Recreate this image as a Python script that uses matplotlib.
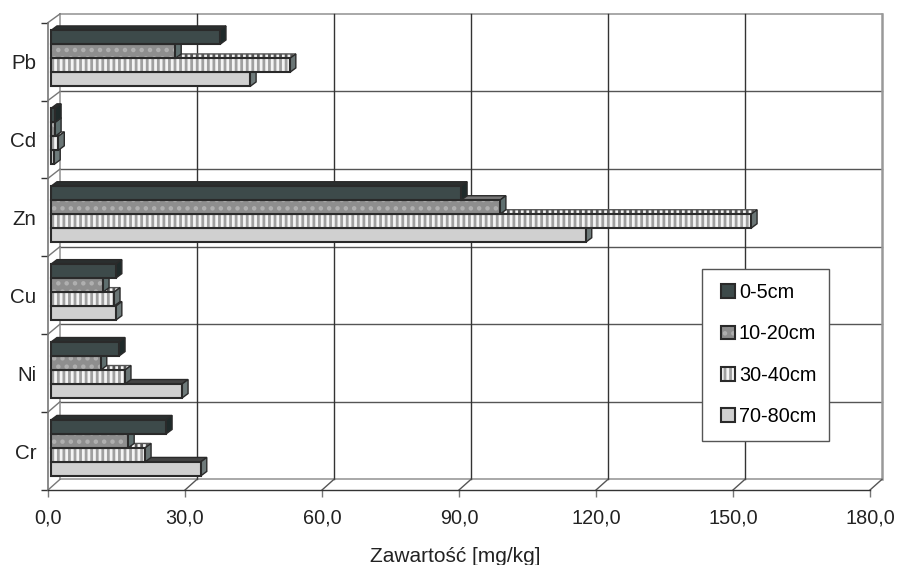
import matplotlib
matplotlib.use("Agg")
import matplotlib.pyplot as plt
from matplotlib.legend_handler import HandlerTuple
from matplotlib.patches import Patch, Polygon, Rectangle

plt.rcParams['font.family'] = ['Liberation Sans', 'DejaVu Sans']
plt.rcParams['hatch.linewidth'] = 2.0

# Cr is at the bottom of the chart
elements = ['Cr', 'Ni', 'Cu', 'Zn', 'Cd', 'Pb']
depths = ['0-5cm', '10-20cm', '30-40cm', '70-80cm']
x_ticks = [0, 30, 60, 90, 120, 150, 180]
x_tick_labels = ['0,0', '30,0', '60,0', '90,0', '120,0', '150,0', '180,0']

val_0_5 = [25.2, 14.9, 14.2, 89.8, 0.9, 37.0]
val_10_20 = [16.9, 10.9, 11.4, 98.3, 0.9, 27.2]
val_30_40 = [20.6, 16.2, 13.8, 153.3, 1.6, 52.3]
val_70_80 = [32.8, 28.7, 14.2, 117.1, 0.7, 43.6]
series = [val_0_5, val_10_20, val_30_40, val_70_80]

# face, hatch, hatch colour, side face, top face
styles = [
    ('#3d4a4a', None, None, '#1f2a2a', '#2a2f2f'),
    ('#8e8e8e', '..', '#b0b0b0', '#5f6f6f', '#777777'),
    ('#f4f4f4', '|||', '#a0a0a0', '#6a7575', '#f4f4f4'),
    ('#d0d0d0', None, None, '#6f7b7b', '#444444'),
]

W, H = 897, 565
fig = plt.figure(figsize=(W / 100, H / 100), dpi=100)
ax = fig.add_axes([48 / W, 1 - 490 / H, 822 / W, 467.4 / H])
ax.set_xlim(0, 180)
ax.set_ylim(0, 6)
for s in ax.spines.values():
    s.set_visible(False)

# pixel sizes turned into data units
px_x = 180 / 822
px_y = 6 / 467.4
wall_dx = 12 * px_x
bar_left = 3 * px_x
bar_dx = 6 * px_x
bar_dy = 4.5 * px_y
bar_h = 14 * px_y
dark = '#2a2a2a'
grey = '#999999'


def wall_dy(k):
    # the back wall is a bit shorter than the front plane
    return (10.7 - 2.0 * k / 6) * px_y


# back wall
for k in range(7):
    c = grey if k in (0, 6) else '#555555'
    ax.plot([wall_dx, 180 + wall_dx], [k + wall_dy(k)] * 2, color=c, lw=1.2 if k in (0, 6) else 1,
            clip_on=False, zorder=1)
for t in x_ticks[1:]:
    c = grey if t == 180 else '#333333'
    ax.plot([t + wall_dx] * 2, [wall_dy(0), 6 + wall_dy(6)], color=c, lw=1.8 if t == 180 else 1,
            clip_on=False, zorder=1)
ax.plot([wall_dx] * 2, [wall_dy(0), 6 + wall_dy(6)], color=grey, lw=1.2, clip_on=False, zorder=1)

# side wall and floor edges
for k in range(7):
    ax.plot([0, wall_dx], [k, k + wall_dy(k)], color='#777777', lw=1, clip_on=False, zorder=1)
for t in x_ticks[1:]:
    ax.plot([t, t + wall_dx], [0, wall_dy(0)], color='#555555', lw=1, clip_on=False, zorder=1)
ax.plot([0, 0], [0, 6], color='#777777', lw=1.2, clip_on=False, zorder=2)
ax.plot([0, 180], [0, 0], color='#333333', lw=1, clip_on=False, zorder=2)

# bars, lowest one in a group first so the upper ones cover its top face
z = 3
for i in range(len(elements)):
    group_top = i + 0.5 + 0.04 + 2 * bar_h
    for j in [3, 2, 1, 0]:
        v = series[j][i]
        face, hatch, hatch_c, side_c, top_c = styles[j]
        y1 = group_top - j * bar_h
        y0 = y1 - bar_h
        x1 = bar_left + v
        top = Polygon([(bar_left, y1), (x1, y1), (x1 + bar_dx, y1 + bar_dy), (bar_left + bar_dx, y1 + bar_dy)],
                      facecolor=top_c, edgecolor=dark, lw=1, zorder=z, clip_on=False,
                      hatch='|||' if j == 2 else None)
        if j == 2:
            top.set_edgecolor('#555555')
        side = Polygon([(x1, y0), (x1 + bar_dx, y0 + bar_dy), (x1 + bar_dx, y1 + bar_dy), (x1, y1)],
                       facecolor=side_c, edgecolor=dark, lw=1, zorder=z, clip_on=False)
        ax.add_patch(top)
        ax.add_patch(side)
        ax.barh(y0, v, height=bar_h, left=bar_left, align='edge', color=face, edgecolor=hatch_c or face,
                hatch=hatch, lw=0, zorder=z + 0.1, clip_on=False)
        ax.barh(y0, v, height=bar_h, left=bar_left, align='edge', fill=False, edgecolor=dark,
                lw=1.5, zorder=z + 0.2, clip_on=False)
        z += 1

# axes
ax.set_xticks(x_ticks)
ax.set_xticklabels(x_tick_labels, fontsize=14.3, color='#222222')
ax.set_yticks(range(7))
ax.set_yticklabels([])
ax.set_yticks([k + 0.5 for k in range(6)], minor=True)
ax.set_yticklabels(elements, minor=True, fontsize=14.8, color='#222222')
ax.tick_params(axis='y', which='major', length=5, width=1, color='#333333')
ax.tick_params(axis='y', which='minor', length=0, pad=8.5)
ax.tick_params(axis='x', length=5, width=1, color='#777777', pad=8.5)
ax.set_xlabel('Zawartość [mg/kg]', fontsize=15, color='#222222', labelpad=13.5, x=(455 - 48) / 822)

# legend: the frame is drawn apart so the entries can sit further in
frame = Rectangle(((702 - 48) / 822, 1 - (441 - 22.6) / 467.4), 127 / 822, 172 / 467.4,
                  transform=ax.transAxes, facecolor='white', edgecolor='#555555', lw=1,
                  zorder=99, clip_on=False)
ax.add_patch(frame)
handles = []
for face, hatch, hatch_c, side_c, top_c in styles:
    handles.append((Patch(facecolor=face, edgecolor=hatch_c or face, hatch=hatch, lw=0),
                    Patch(fill=False, edgecolor=dark, lw=1.5)))
leg = ax.legend(handles, depths, handler_map={tuple: HandlerTuple(ndivide=1, pad=0)},
                loc='upper left', bbox_to_anchor=((721 - 48) / 822, 1 - (283 - 22.6) / 467.4),
                fontsize=14.3, frameon=False, borderpad=0, borderaxespad=0, labelspacing=1.13,
                handlelength=0.7, handleheight=0.7, handletextpad=0.2)
leg.set_zorder(100)

fig.savefig('out.png', dpi=100)
